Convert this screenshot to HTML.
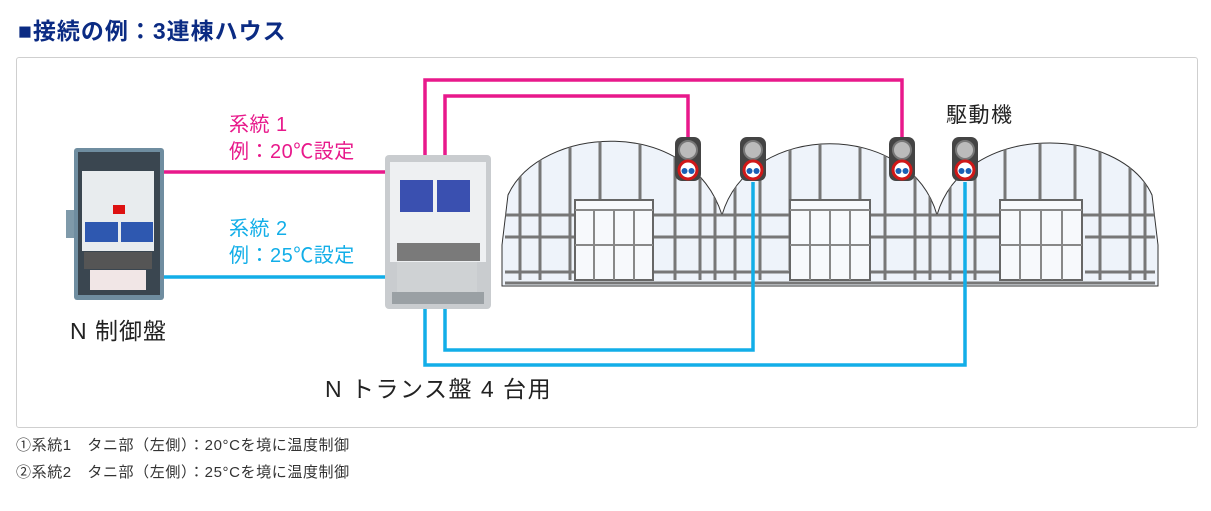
<!DOCTYPE html>
<html><head><meta charset="utf-8"><style>
body{margin:0;background:#fff;width:1211px;height:511px;overflow:hidden;font-family:"Liberation Sans","Noto Sans CJK JP",sans-serif;}
.t{position:absolute;white-space:nowrap}
</style></head><body>
<div class="t" style="left:18px;top:12px;font-size:23px;font-weight:bold;color:#0b2b83;letter-spacing:1px">■接続の例：3連棟ハウス</div>
<div style="position:absolute;left:16px;top:57px;width:1180px;height:369px;border:1px solid #cfcfcf;border-radius:3px"></div>
<svg style="position:absolute;left:0;top:0" width="1211" height="511">
<defs>
<g id="act"><rect x="-13" y="0" width="26" height="44" rx="7" fill="#444"/><circle cx="0" cy="13" r="9" fill="#bbb" stroke="#777" stroke-width="2"/><circle cx="0" cy="33" r="9" fill="#fff" stroke="#d01818" stroke-width="3"/><circle cx="-3.5" cy="34" r="3" fill="#1a5fb4"/><circle cx="3.5" cy="34" r="3" fill="#1a5fb4"/></g>
<clipPath id="hc"><path d="M502,286 L502,245 L508,195 C540,125 690,115 722,215 C750,120 910,120 937,215 C965,120 1120,125 1152,195 L1158,245 L1158,286 Z"/></clipPath>
</defs>
<path d="M502,286 L502,245 L508,195 C540,125 690,115 722,215 C750,120 910,120 937,215 C965,120 1120,125 1152,195 L1158,245 L1158,286 Z" stroke="#333" fill="#eef3fa"/>
<g clip-path="url(#hc)">
<g stroke="#777" stroke-width="3" fill="none">
<path d="M520,280V100M540,280V100M570,280V100M600,270V100M640,270V100M675,280V100M700,280V100M715,280V100M735,280V100M760,280V100M790,270V100M820,270V100M860,280V100M885,280V100M915,280V100M930,280V100M950,280V100M975,280V100M1005,270V100M1040,270V100M1075,280V100M1100,280V100M1130,280V100M1145,280V100"/>
<path d="M505,215H1155M505,237H575M652,237H790M870,237H1000M1085,237H1155M505,272H575M652,272H790M870,272H1000M1085,272H1155M505,283H1155"/>
</g>
<g fill="#f7f9fc" stroke="#666" stroke-width="2">
<rect x="575" y="200" width="78" height="80"/><rect x="790" y="200" width="80" height="80"/><rect x="1000" y="200" width="82" height="80"/>
</g>
<g stroke="#888" stroke-width="2"><path d="M575,210H653M614,210V280M575,245H653M790,210H870M830,210V280M790,245H870M1000,210H1082M1041,210V280M1000,245H1082M594,210V280M634,210V280M810,210V280M850,210V280M1020,210V280M1062,210V280"/></g>
</g>
<g fill="none" stroke-width="3.5">
<path d="M163,172H388" stroke="#e8198b"/>
<path d="M163,277H388" stroke="#12aee8"/>
<path d="M425,160V80H902V138" stroke="#e8198b"/>
<path d="M445,160V96H688V138" stroke="#e8198b"/>
<path d="M425,305V365H965V182" stroke="#12aee8"/>
<path d="M445,305V350H753V182" stroke="#12aee8"/>
</g>
<use href="#act" x="688" y="137"/><use href="#act" x="753" y="137"/><use href="#act" x="902" y="137"/><use href="#act" x="965" y="137"/>
<rect x="66" y="210" width="12" height="28" fill="#7f9aaa"/>
<rect x="74" y="148" width="90" height="152" rx="3" fill="#6f8da0"/>
<rect x="78" y="152" width="82" height="143" fill="#3a4650"/>
<rect x="82" y="171" width="72" height="80" fill="#e8ecee"/>
<rect x="85" y="222" width="33" height="20" fill="#2e58b0"/><rect x="121" y="222" width="32" height="20" fill="#2e58b0"/>
<rect x="113" y="205" width="12" height="9" fill="#d11"/>
<rect x="84" y="252" width="68" height="17" fill="#555"/>
<rect x="90" y="270" width="56" height="20" fill="#f1e6e6"/>
<rect x="385" y="155" width="106" height="154" rx="4" fill="#c9cccf"/>
<rect x="390" y="162" width="96" height="100" fill="#eef0f2"/>
<rect x="400" y="180" width="33" height="32" fill="#3a50b0"/><rect x="437" y="180" width="33" height="32" fill="#3a50b0"/>
<rect x="397" y="243" width="83" height="18" fill="#7a7a7a"/>
<rect x="397" y="262" width="80" height="30" fill="#cfd2d4"/>
<rect x="392" y="292" width="92" height="12" fill="#9aa0a4"/>
</svg>
<div class="t" style="left:229px;top:112px;font-size:20px;color:#e8198b;line-height:27px;letter-spacing:0.5px">系統 1<br>例：20℃設定</div>
<div class="t" style="left:229px;top:216px;font-size:20px;color:#12aee8;line-height:27px;letter-spacing:0.5px">系統 2<br>例：25℃設定</div>
<div class="t" style="left:70px;top:312px;font-size:23px;color:#222;letter-spacing:1px">N 制御盤</div>
<div class="t" style="left:325px;top:370px;font-size:23px;color:#222;letter-spacing:1.5px">N トランス盤 4 台用</div>
<div class="t" style="left:946px;top:99px;font-size:21px;color:#222;letter-spacing:1.5px">駆動機</div>
<div class="t" style="left:16px;top:434px;font-size:15px;color:#333;letter-spacing:0.6px">①系統1　タニ部（左側）：20°Cを境に温度制御</div>
<div class="t" style="left:16px;top:461px;font-size:15px;color:#333;letter-spacing:0.6px">②系統2　タニ部（左側）：25°Cを境に温度制御</div>
</body></html>
